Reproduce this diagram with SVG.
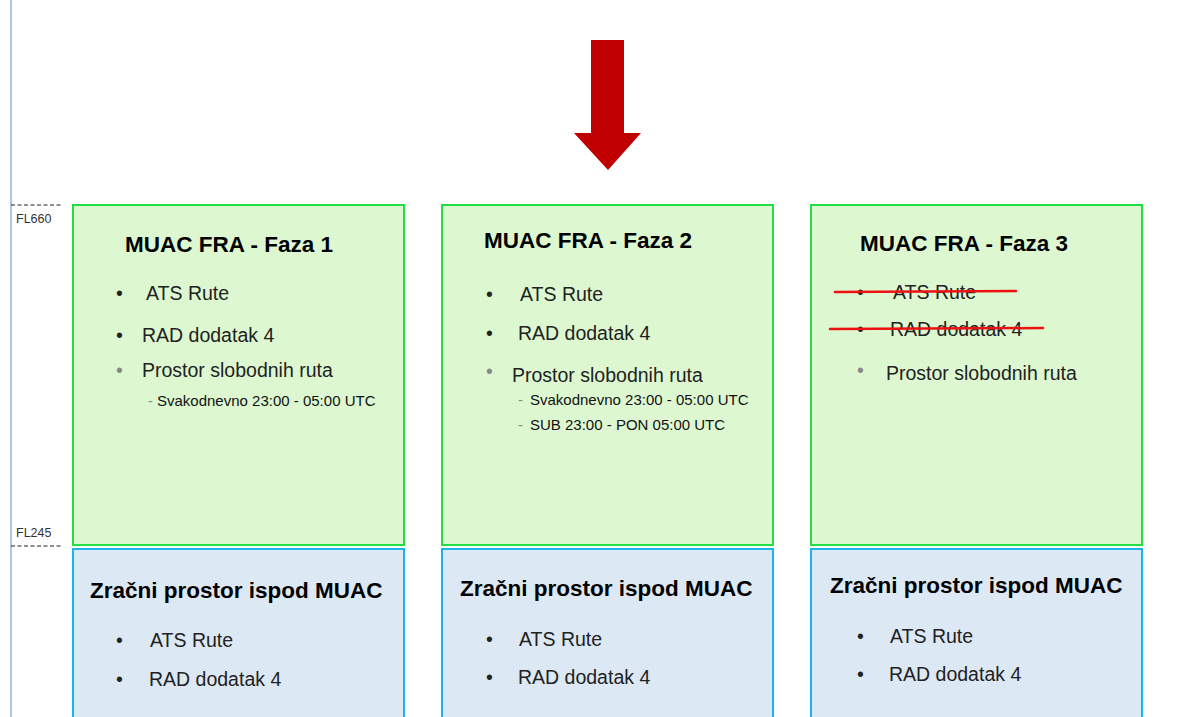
<svg xmlns="http://www.w3.org/2000/svg" width="1181" height="717" viewBox="0 0 1181 717">
<style>
text{font-family:"Liberation Sans",Arial,sans-serif;fill:#111}
.t{font-size:22.5px;font-weight:bold;fill:#000}
.b{font-size:19.5px;fill:#222}
.s{font-size:15px;fill:#111}
.g{fill:#888}
.fl{font-size:12.5px;fill:#333}
.up{fill:#ddf8d1;stroke:#22dd44;stroke-width:2}
.lo{fill:#dde8f5;stroke:#1cb4ee;stroke-width:2}
.dash{stroke:#222;stroke-width:1;stroke-dasharray:4 2.5}
.strike{stroke:#ee1111;stroke-width:2.5;stroke-linecap:round}
</style>
<rect width="1181" height="717" fill="#fff"/>
<g id="axis">
<line x1="11" y1="0" x2="11" y2="717" stroke="#7f9fd8" stroke-width="1.2"/>
<line class="dash" x1="11" y1="205" x2="61" y2="205"/>
<line class="dash" x1="11" y1="546" x2="61" y2="546"/>
<text class="fl" x="16" y="223">FL660</text>
<text class="fl" x="16" y="537">FL245</text>
</g>
<g id="connectors">
<polygon points="591,40 624,40 624,133 641,133 608,170 574,133 591,133" fill="#c00000"/>
</g>
<g id="faza1">
<rect class="up" x="73" y="205" width="331" height="340"/>
<text class="t" x="125" y="252">MUAC FRA - Faza 1</text>
<text class="b" x="116" y="300">•</text><text class="b" x="146" y="300">ATS Rute</text>
<text class="b" x="116" y="342">•</text><text class="b" x="142" y="342">RAD dodatak 4</text>
<text class="b g" x="116" y="377">•</text><text class="b" x="142" y="377">Prostor slobodnih ruta</text>
<text class="s g" x="148" y="406">-</text><text class="s" x="157" y="406">Svakodnevno 23:00 - 05:00 UTC</text>
</g>
<g id="faza2">
<rect class="up" x="442" y="205" width="331" height="340"/>
<text class="t" x="484" y="248">MUAC FRA - Faza 2</text>
<text class="b" x="486" y="301">•</text><text class="b" x="520" y="301">ATS Rute</text>
<text class="b" x="486" y="340">•</text><text class="b" x="518" y="340">RAD dodatak 4</text>
<text class="b g" x="486" y="378">•</text><text class="b" x="512" y="382">Prostor slobodnih ruta</text>
<text class="s g" x="518" y="405">-</text><text class="s" x="530" y="405">Svakodnevno 23:00 - 05:00 UTC</text>
<text class="s g" x="518" y="430">-</text><text class="s" x="530" y="430">SUB 23:00 - PON 05:00 UTC</text>
</g>
<g id="faza3">
<rect class="up" x="811" y="205" width="331" height="340"/>
<text class="t" x="860" y="251">MUAC FRA - Faza 3</text>
<text class="b" x="857" y="299">•</text><text class="b" x="893" y="299">ATS Rute</text>
<line class="strike" x1="835" y1="292" x2="1016" y2="291"/>
<text class="b" x="857" y="336">•</text><text class="b" x="890" y="336">RAD dodatak 4</text>
<line class="strike" x1="830" y1="329" x2="1043" y2="328"/>
<text class="b g" x="857" y="377">•</text><text class="b" x="886" y="380">Prostor slobodnih ruta</text>
</g>
<g id="ispod1">
<rect class="lo" x="73" y="549" width="331" height="180"/>
<text class="t" x="90" y="598">Zračni prostor ispod MUAC</text>
<text class="b" x="116" y="647">•</text><text class="b" x="150" y="647">ATS Rute</text>
<text class="b" x="116" y="686">•</text><text class="b" x="149" y="686">RAD dodatak 4</text>
</g>
<g id="ispod2">
<rect class="lo" x="442" y="549" width="331" height="180"/>
<text class="t" x="460" y="596">Zračni prostor ispod MUAC</text>
<text class="b" x="486" y="646">•</text><text class="b" x="519" y="646">ATS Rute</text>
<text class="b" x="486" y="684">•</text><text class="b" x="518" y="684">RAD dodatak 4</text>
</g>
<g id="ispod3">
<rect class="lo" x="811" y="549" width="331" height="180"/>
<text class="t" x="830" y="593">Zračni prostor ispod MUAC</text>
<text class="b" x="857" y="643">•</text><text class="b" x="890" y="643">ATS Rute</text>
<text class="b" x="857" y="681">•</text><text class="b" x="889" y="681">RAD dodatak 4</text>
</g>
</svg>
